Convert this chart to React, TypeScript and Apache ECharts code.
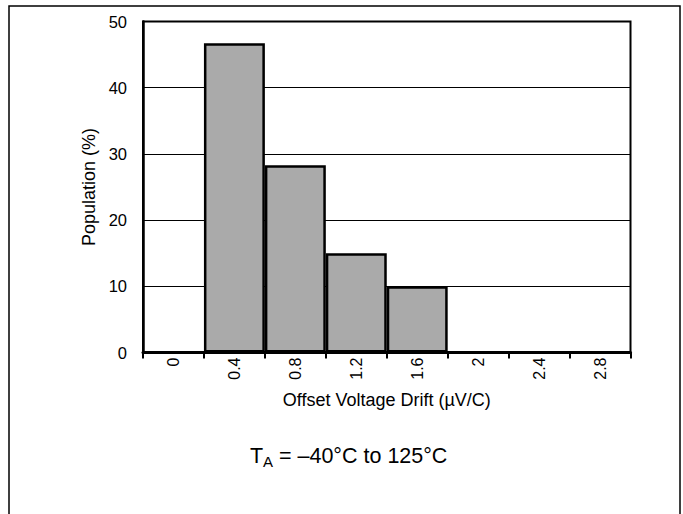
import React, { useEffect, useRef } from "react";
import * as echarts from "echarts";

const categories = ["0", "0.4", "0.8", "1.2", "1.6", "2", "2.4", "2.8"];
const population = [0, 46.7, 28.3, 15, 10, 0, 0, 0];
const yMin = 0;
const yMax = 50;
const yStep = 10;
const xTitle = "Offset Voltage Drift (µV/C)";
const yTitle = "Population (%)";
const noteMain = "T";
const noteSub = "A";
const noteRest = " = –40°C to 125°C";

const FONT = "'Liberation Sans', Arial, sans-serif";

export default function App() {
  const ref = useRef<HTMLDivElement>(null);
  useEffect(() => {
    document.body.style.margin = "0";
    const chart = echarts.init(ref.current!, null, { renderer: "svg" });
    chart.setOption({
      animation: false,
      backgroundColor: "#fff",
      textStyle: { fontFamily: FONT },
      grid: {
        left: 143,
        top: 21.5,
        right: 52.5,
        bottom: 161.5,
        show: true,
        borderColor: "#000",
        borderWidth: 2,
        containLabel: false,
      },
      xAxis: {
        type: "category",
        data: categories,
        boundaryGap: true,
        name: xTitle,
        nameLocation: "middle",
        nameGap: 38,
        nameTextStyle: { fontSize: 18, color: "#000", fontFamily: FONT },
        axisLine: { show: true, lineStyle: { color: "#000", width: 3 } },
        axisTick: {
          show: true,
          interval: 0,
          alignWithLabel: false,
          length: 6,
          lineStyle: { color: "#000", width: 2 },
        },
        axisLabel: {
          interval: 0,
          rotate: 90,
          margin: 5,
          fontSize: 16,
          color: "#000",
          fontFamily: FONT,
        },
        splitLine: { show: false },
      },
      yAxis: {
        type: "value",
        min: yMin,
        max: yMax,
        interval: yStep,
        name: yTitle,
        nameLocation: "middle",
        nameRotate: 90,
        nameGap: 42,
        nameTextStyle: { fontSize: 18, color: "#000", fontFamily: FONT },
        axisLine: { show: true, lineStyle: { color: "#000", width: 2.5 } },
        axisTick: { show: false },
        axisLabel: { margin: 16, fontSize: 16.5, color: "#000", fontFamily: FONT },
        splitLine: { show: true, lineStyle: { color: "#000", width: 1 } },
      },
      series: [
        {
          type: "bar",
          data: population,
          barCategoryGap: "0%",
          itemStyle: { color: "#aaaaaa", borderColor: "#000", borderWidth: 2.5 },
        },
      ],
      graphic: [
        {
          type: "rect",
          shape: { x: 9, y: 6, width: 671, height: 530 },
          style: { fill: "none", stroke: "#000", lineWidth: 1.5 },
          silent: true,
        },
        {
          type: "text",
          x: 250,
          y: 455.5,
          style: {
            text: noteMain,
            fontSize: 21.5,
            fontFamily: FONT,
            fill: "#000",
            verticalAlign: "middle",
          },
        },
        {
          type: "text",
          x: 263,
          y: 461,
          style: {
            text: noteSub,
            fontSize: 15,
            fontFamily: FONT,
            fill: "#000",
            verticalAlign: "middle",
          },
        },
        {
          type: "text",
          x: 273,
          y: 455.5,
          style: {
            text: noteRest,
            fontSize: 21.5,
            fontFamily: FONT,
            fill: "#000",
            verticalAlign: "middle",
          },
        },
      ],
    });
    return () => chart.dispose();
  }, []);
  return <div ref={ref} style={{ width: 683, height: 514 }} />;
}
